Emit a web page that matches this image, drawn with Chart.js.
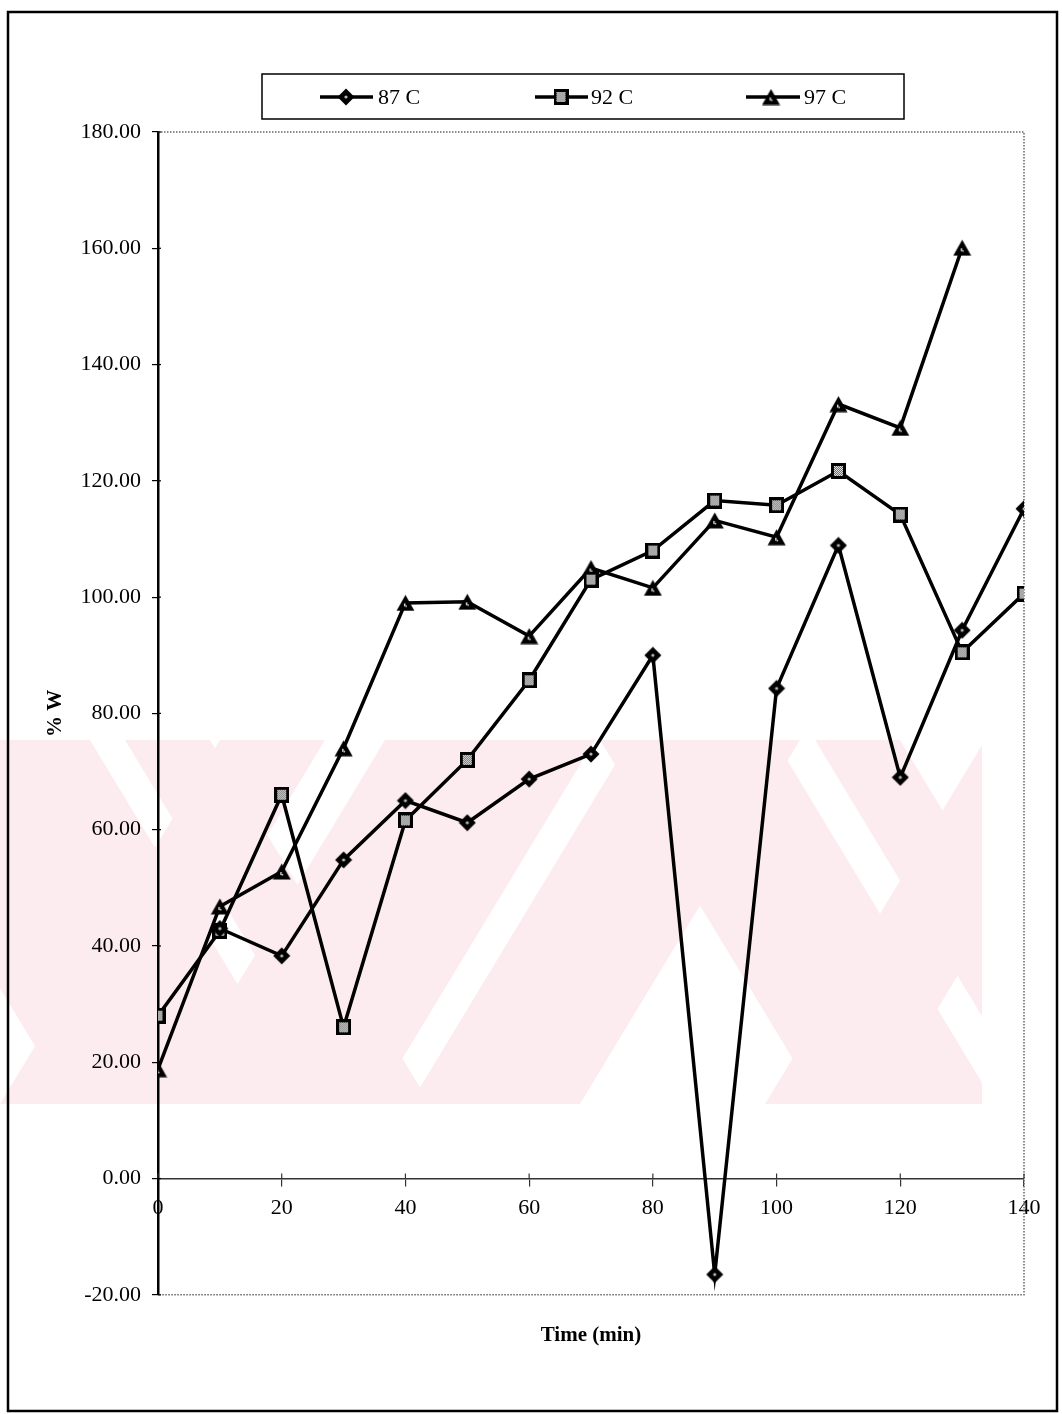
<!DOCTYPE html>
<html>
<head>
<meta charset="utf-8">
<script src="https://cdn.jsdelivr.net/npm/chart.js@4/dist/chart.umd.min.js"></script>
<style>
  html, body { margin: 0; padding: 0; background: #fff; }
  #wrap { width: 1062px; height: 1414px; }
</style>
</head>
<body>
<div id="wrap"><canvas id="c" width="1062" height="1414"></canvas></div>
<script>
// Sampling times (min)
const times = [0, 10, 20, 30, 40, 50, 60, 70, 80, 90, 100, 110, 120, 130, 140];

// % W for each temperature
const w87 = [null, 43.0, 38.3, 54.8, 65.0, 61.2, 68.7, 73.0, 90.0, -16.5, 84.3, 108.9, 69.0, 94.3, 115.2];
const w92 = [28.0, 42.6, 66.0, 26.0, 61.6, 72.0, 85.7, 103.0, 108.0, 116.6, 115.8, 121.7, 114.2, 90.5, 100.6];
const w97 = [18.8, 46.8, 52.8, 74.0, 99.0, 99.2, 93.3, 105.0, 101.6, 113.2, 110.3, 133.2, 129.1, 160.1, null];

const seriesLabels = ['87 C', '92 C', '97 C'];
const yTickLabels = ['-20.00', '0.00', '20.00', '40.00', '60.00', '80.00', '100.00', '120.00', '140.00', '160.00', '180.00'];
const xTickLabels = ['0', '20', '40', '60', '80', '100', '120', '140'];

const SERIF = "'Liberation Serif', 'Times New Roman', serif";

// ---- marker glyphs ----
function makeDiamond() {
  const c = document.createElement('canvas'); c.width = 18; c.height = 18;
  const g = c.getContext('2d');
  g.fillStyle = '#000';
  g.beginPath(); g.moveTo(9, 0.5); g.lineTo(17.5, 9); g.lineTo(9, 17.5); g.lineTo(0.5, 9); g.closePath(); g.fill();
  g.fillStyle = '#bbb';
  g.beginPath(); g.arc(9, 9, 1.6, 0, Math.PI * 2); g.fill();
  return c;
}
function makeSquare() {
  const c = document.createElement('canvas'); c.width = 15; c.height = 16;
  const g = c.getContext('2d');
  g.fillStyle = '#000'; g.fillRect(0, 0, 15, 16);
  for (let y = 3; y < 13; y++) {
    for (let x = 3; x < 12; x++) {
      g.fillStyle = ((x + y) % 2 === 0) ? '#e6e6e6' : '#6a6a6a';
      g.fillRect(x, y, 1, 1);
    }
  }
  return c;
}
function makeTriangle() {
  const c = document.createElement('canvas'); c.width = 19; c.height = 17;
  const g = c.getContext('2d');
  g.fillStyle = '#000';
  g.beginPath(); g.moveTo(9.5, 0.5); g.lineTo(18.5, 16.5); g.lineTo(0.5, 16.5); g.closePath(); g.fill();
  g.fillStyle = '#d8d8d8';
  g.fillRect(8, 9, 1.5, 3); g.fillRect(9.5, 11, 1.5, 1.5);
  return c;
}
const markers = [makeDiamond(), makeSquare(), makeTriangle()];

function toPoints(arr) { return times.map((t, i) => ({ x: t, y: arr[i] })); }

function lineSet(label, arr, marker) {
  return {
    label: label,
    data: toPoints(arr),
    borderColor: '#000',
    backgroundColor: '#000',
    borderWidth: 3.5,
    tension: 0,
    spanGaps: false,
    pointStyle: marker,
    pointRadius: 9,
    pointHoverRadius: 9
  };
}

// Background watermark bands (pale pink), as [topLeft, topRight, bottomLeft, bottomRight]
const wmTop = 740, wmBottom = 1104;
const wmBands = [
  [-150, 90, 70, 310],
  [125, 210, 345, 430],
  [600, 775, 820, 995],
  [815, 900, 1035, 1120],
  [220, 325, 0, 105],
  [385, 595, 165, 375],
  [630, 800, 410, 580],
  [985, 1100, 765, 880]
];

const decor = {
  id: 'decor',
  beforeDraw(chart) {
    const g = chart.ctx;
    g.save();
    g.fillStyle = '#fff';
    g.fillRect(0, 0, chart.width, chart.height);
    g.beginPath();
    g.rect(0, wmTop, 982, wmBottom - wmTop);
    g.clip();
    g.fillStyle = '#fcecf0';
    g.beginPath();
    wmBands.forEach(s => {
      g.moveTo(s[0], wmTop); g.lineTo(s[1], wmTop);
      g.lineTo(s[3], wmBottom); g.lineTo(s[2], wmBottom);
      g.closePath();
    });
    g.fill('nonzero');
    g.restore();
  },
  beforeDatasetsDraw(chart) {
    const g = chart.ctx;
    const a = chart.chartArea;
    const xs = chart.scales.x, ys = chart.scales.y;
    g.save();
    // dotted frame on top, right and bottom of the plot area
    g.strokeStyle = '#666';
    g.lineWidth = 1.5;
    g.setLineDash([1.5, 1.5]);
    g.beginPath();
    g.moveTo(a.left, a.top); g.lineTo(a.right, a.top); g.lineTo(a.right, a.bottom); g.lineTo(a.left, a.bottom);
    g.stroke();
    g.setLineDash([]);
    // upper half of the x tick marks (crossing the zero line)
    const y0 = ys.getPixelForValue(0);
    g.strokeStyle = '#333';
    g.lineWidth = 1.2;
    xs.ticks.forEach(t => {
      const px = xs.getPixelForValue(t.value);
      g.beginPath(); g.moveTo(px, y0 - 5); g.lineTo(px, y0); g.stroke();
    });
    // right half of the y tick marks
    g.strokeStyle = '#000';
    ys.ticks.forEach(t => {
      const py = ys.getPixelForValue(t.value);
      g.beginPath(); g.moveTo(a.left, py); g.lineTo(a.left + 3, py); g.stroke();
    });
    g.restore();
  },
  afterDraw(chart) {
    const g = chart.ctx;
    g.save();
    // page frame
    g.strokeStyle = '#000';
    g.lineWidth = 2.5;
    g.strokeRect(8, 12, 1049, 1399);
    // legend box
    g.lineWidth = 1.5;
    g.strokeRect(262, 74, 642, 45);
    const items = [
      { x0: 320, x1: 373, mx: 346, tx: 378 },
      { x0: 535, x1: 588, mx: 561, tx: 591 },
      { x0: 746, x1: 800, mx: 771, tx: 804 }
    ];
    const ly = 97;
    g.font = '22px ' + SERIF;
    g.fillStyle = '#000';
    g.textBaseline = 'middle';
    chart.data.datasets.forEach((ds, i) => {
      const it = items[i];
      g.strokeStyle = '#000';
      g.lineWidth = 3.5;
      g.beginPath(); g.moveTo(it.x0, ly); g.lineTo(it.x1, ly); g.stroke();
      const m = ds.pointStyle;
      g.drawImage(m, it.mx - m.width / 2, ly - m.height / 2);
      g.fillText(ds.label, it.tx, ly + 1);
    });
    g.restore();
  }
};

new Chart(document.getElementById('c'), {
  type: 'line',
  data: {
    datasets: [
      lineSet(seriesLabels[0], w87, markers[0]),
      lineSet(seriesLabels[1], w92, markers[1]),
      lineSet(seriesLabels[2], w97, markers[2])
    ]
  },
  options: {
    responsive: false,
    animation: false,
    events: [],
    layout: { padding: { left: 0, right: 38, top: 132, bottom: 56 } },
    plugins: {
      legend: { display: false },
      tooltip: { enabled: false },
      title: {
        display: true,
        text: 'Time (min)',
        position: 'bottom',
        fullSize: false,
        color: '#000',
        font: { family: SERIF, size: 21, weight: 'bold' },
        padding: { top: 28, bottom: 10 }
      }
    },
    scales: {
      x: {
        type: 'linear',
        min: 0,
        max: 140,
        position: { y: 0 },
        ticks: {
          stepSize: 20,
          color: '#000',
          padding: 9,
          maxRotation: 0,
          font: { family: SERIF, size: 22 },
          callback: (v, i) => xTickLabels[i]
        },
        grid: { drawOnChartArea: false, drawTicks: true, tickLength: 7, color: '#333', lineWidth: 1.2 },
        border: { display: true, color: '#333', width: 1.5 }
      },
      y: {
        min: -20,
        max: 180,
        afterFit(scale) { scale.width = 158; },
        ticks: {
          stepSize: 20,
          color: '#000',
          padding: 11,
          font: { family: SERIF, size: 22 },
          callback: (v, i) => yTickLabels[i]
        },
        title: {
          display: true,
          text: '% W',
          color: '#000',
          font: { family: SERIF, size: 21, weight: 'bold' },
          padding: { top: 43, bottom: 0 }
        },
        grid: { drawOnChartArea: false, drawTicks: true, tickLength: 6, color: '#000', lineWidth: 1.2 },
        border: { display: true, color: '#000', width: 2.5 }
      }
    }
  },
  plugins: [decor]
});
</script>
</body>
</html>
